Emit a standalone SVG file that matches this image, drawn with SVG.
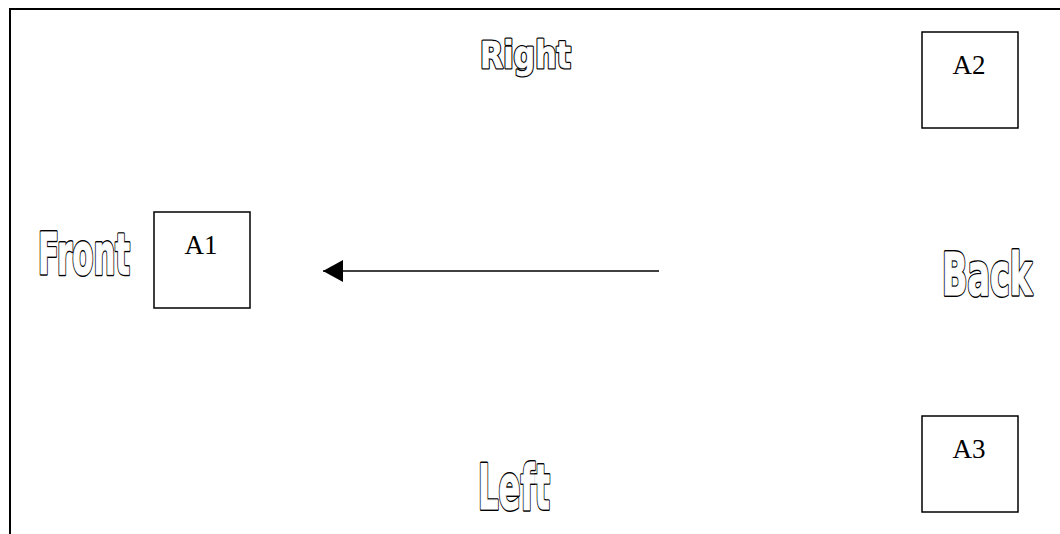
<svg xmlns="http://www.w3.org/2000/svg" xmlns:xlink="http://www.w3.org/1999/xlink" width="1060" height="534" viewBox="0 0 1060 534">
<style>
.frame{fill:none;stroke:#000;stroke-width:2}
.box{fill:#fff;stroke:#000;stroke-width:1.5}
.lbl{font-family:"Liberation Serif","Times New Roman",serif;font-size:27px;fill:#000;text-anchor:middle}
.ot{font-family:"DejaVu Sans","Liberation Sans",sans-serif;font-weight:bold}
.under{fill:#000;stroke:#000;stroke-width:4;stroke-linejoin:round}
.over{fill:#fff;stroke:#fff;stroke-width:1.2;stroke-linejoin:round}
.under2{fill:#000;stroke:#000;stroke-width:3.2;stroke-linejoin:round}
.over2{fill:#fff;stroke:#fff;stroke-width:0.6;stroke-linejoin:round}
.conn{stroke:#000;stroke-width:1.5;fill:none}
</style>
<defs>
<marker id="ah" markerWidth="20" markerHeight="22" refX="20" refY="11" orient="auto" markerUnits="userSpaceOnUse">
<path d="M0,0 L20,11 L0,22 Z" fill="#000"/>
</marker>
<text id="tRight" class="ot" x="480" y="68" font-size="37" textLength="91" lengthAdjust="spacingAndGlyphs">Right</text>
<text id="tFront" class="ot" x="38" y="274" font-size="57" textLength="92" lengthAdjust="spacingAndGlyphs">Front</text>
<text id="tBack" class="ot" x="942" y="295" font-size="59" textLength="90" lengthAdjust="spacingAndGlyphs">Back</text>
<text id="tLeft" class="ot" x="478" y="509" font-size="63" textLength="72" lengthAdjust="spacingAndGlyphs">Left</text>
</defs>
<rect width="1060" height="534" fill="#fff"/>
<rect class="frame" x="10" y="9" width="1080" height="560"/>
<g id="label-right"><use xlink:href="#tRight" class="under2"/><use xlink:href="#tRight" class="over2"/></g>
<g id="label-front"><use xlink:href="#tFront" class="under"/><use xlink:href="#tFront" class="over"/></g>
<g id="label-back"><use xlink:href="#tBack" class="under"/><use xlink:href="#tBack" class="over"/></g>
<g id="label-left"><use xlink:href="#tLeft" class="under"/><use xlink:href="#tLeft" class="over"/></g>
<g id="A1"><rect class="box" x="154" y="212" width="96" height="96"/><text class="lbl" x="201" y="254">A1</text></g>
<g id="A2"><rect class="box" x="922" y="32" width="96" height="96"/><text class="lbl" x="969" y="74">A2</text></g>
<g id="A3"><rect class="box" x="922" y="416" width="96" height="96"/><text class="lbl" x="969" y="458">A3</text></g>
<g id="connectors"><line class="conn" x1="659" y1="271" x2="323" y2="271" marker-end="url(#ah)"/></g>
</svg>
